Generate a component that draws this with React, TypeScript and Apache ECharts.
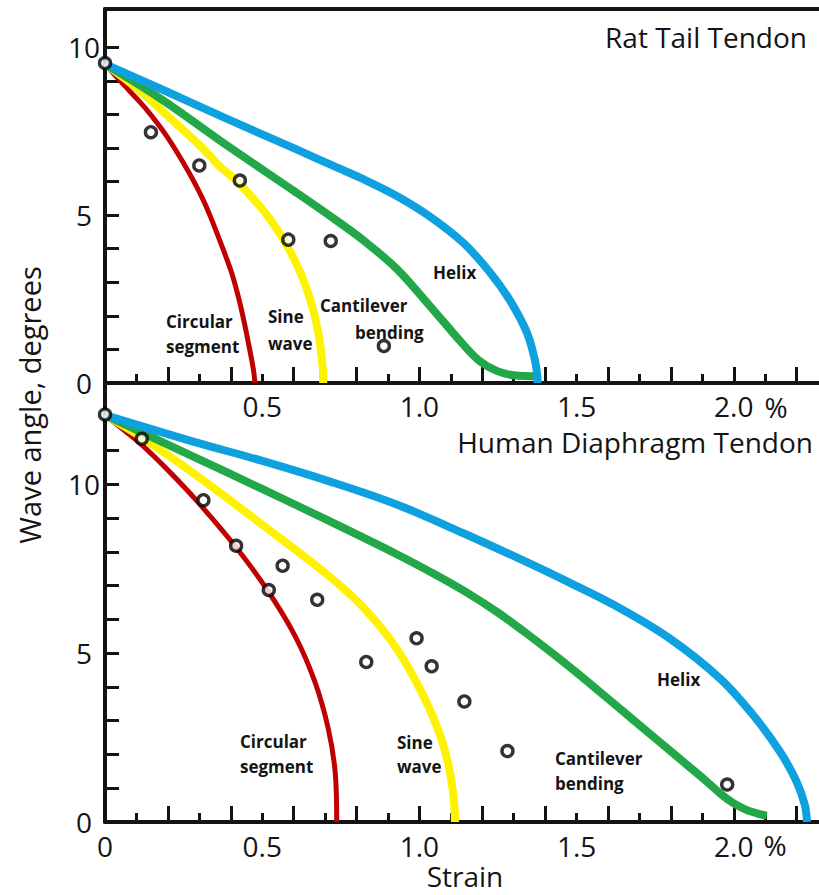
import React, { useEffect, useRef } from "react";
import * as echarts from "echarts";

// ---------- Rat tail tendon (top panel) ----------
const ratCircular = [[0, 9.5], [0.06, 8.88], [0.127, 8.2], [0.2, 7.3], [0.27, 6.22], [0.31, 5.5], [0.336, 4.94], [0.375, 4.0], [0.404, 3.25], [0.426, 2.5], [0.443, 1.8], [0.458, 1.1], [0.472, 0.4], [0.477, 0]];
const ratSine = [[0, 9.5], [0.085, 8.9], [0.171, 8.2], [0.31, 7.0], [0.36, 6.5], [0.426, 5.95], [0.52, 4.94], [0.593, 3.85], [0.647, 2.66], [0.679, 1.47], [0.692, 0.5], [0.694, 0]];
const ratCantilever = [[0, 9.5], [0.18, 8.45], [0.392, 7.05], [0.604, 5.7], [0.715, 4.98], [0.822, 4.25], [0.928, 3.4], [1.033, 2.3], [1.139, 1.15], [1.192, 0.65], [1.246, 0.36], [1.3, 0.23], [1.38, 0.2]];
const ratHelix = [[0, 9.5], [0.18, 8.75], [0.392, 7.85], [0.604, 6.98], [0.73, 6.45], [0.822, 6.07], [0.928, 5.57], [1.033, 4.96], [1.139, 4.18], [1.224, 3.3], [1.288, 2.46], [1.342, 1.5], [1.367, 0.7], [1.375, 0.2], [1.376, 0]];
const ratMeasured = [[0, 9.53], [0.146, 7.47], [0.3, 6.48], [0.429, 6.03], [0.583, 4.27], [0.718, 4.23], [0.887, 1.1]];

// ---------- Human diaphragm tendon (bottom panel) ----------
const humCircular = [[0, 12.05], [0.05, 11.68], [0.111, 11.22], [0.2, 10.42], [0.29, 9.53], [0.413, 8.18], [0.514, 6.9], [0.604, 5.52], [0.668, 4.14], [0.71, 2.77], [0.732, 1.49], [0.737, 0]];
const humSine = [[0, 12.05], [0.12, 11.37], [0.286, 10.3], [0.498, 8.82], [0.71, 7.3], [0.822, 6.35], [0.928, 5.13], [1.012, 3.75], [1.066, 2.57], [1.097, 1.49], [1.111, 0.5], [1.113, 0]];
const humCantilever = [[0, 12.05], [0.12, 11.52], [0.286, 10.8], [0.498, 9.87], [0.716, 8.9], [0.928, 7.93], [1.05, 7.33], [1.15, 6.8], [1.25, 6.2], [1.35, 5.52], [1.45, 4.8], [1.55, 4.04], [1.65, 3.26], [1.75, 2.48], [1.85, 1.7], [1.92, 1.15], [1.96, 0.82], [2.0, 0.55], [2.04, 0.36], [2.08, 0.24], [2.105, 0.19]];
const humHelix = [[0, 12.05], [0.286, 11.25], [0.498, 10.7], [0.716, 10.08], [0.928, 9.4], [1.14, 8.55], [1.352, 7.65], [1.479, 7.08], [1.638, 6.33], [1.797, 5.43], [1.956, 4.25], [2.062, 3.16], [2.147, 2.08], [2.2, 1.19], [2.226, 0.5], [2.233, 0]];
const humMeasured = [[0, 12.07], [0.117, 11.35], [0.313, 9.53], [0.417, 8.18], [0.565, 7.59], [0.521, 6.87], [0.675, 6.58], [0.831, 4.74], [0.991, 5.44], [1.039, 4.61], [1.143, 3.57], [1.28, 2.1], [1.979, 1.11]];

// ---------- ticks and labels ----------
const xLongTicks = [0.2, 0.4, 0.6, 0.8, 1.0, 1.2, 1.4, 1.6, 1.8, 2.0, 2.2];
const xShortTicks = [0.1, 0.3, 0.5, 0.7, 0.9, 1.1, 1.3, 1.5, 1.7, 1.9, 2.1];
const xLabelsTop = [0.5, 1.0, 1.5, 2.0];
const xLabelsBottom = [0, 0.5, 1.0, 1.5, 2.0];
const yTicksTop = [1, 2, 3, 4, 5, 6, 7, 8, 9, 10];
const yTicksBottom = [1, 2, 3, 4, 5, 6, 7, 8, 9, 10, 11, 12];
const yLabels = [0, 5, 10];

const RED = "#c00000";
const YELLOW = "#fff200";
const GREEN = "#22a848";
const BLUE = "#0fa0e0";
const INK = "#141414";
const FONT = "'Open Sans', sans-serif";

export default function App() {
  const ref = useRef<HTMLDivElement>(null);
  useEffect(() => {
    if (!ref.current) return;
    const chart = echarts.init(ref.current, undefined, { renderer: "svg" });
    const fmtX = (v: number) => (v === 0 ? "0" : v.toFixed(1));
    const axisLine = { show: true, onZero: false, lineStyle: { color: INK, width: 4 } };
    const xMain = (grid: number, labels: number[], margin: number) => ({
      type: "value", gridIndex: grid, min: 0, max: 2.271, position: "bottom",
      axisLine, splitLine: { show: false },
      axisTick: { show: true, inside: true, length: 16, lineStyle: { color: INK, width: 3 }, customValues: xLongTicks },
      axisLabel: { customValues: labels, formatter: fmtX, fontSize: 28, lineHeight: 28, fontFamily: FONT, color: INK, margin },
    });
    const xShort = (grid: number) => ({
      type: "value", gridIndex: grid, min: 0, max: 2.271, position: "bottom",
      axisLine: { show: false }, splitLine: { show: false },
      axisTick: { show: true, inside: true, length: 9, lineStyle: { color: INK, width: 3 }, customValues: xShortTicks },
      axisLabel: { show: false },
    });
    const yAx = (grid: number, max: number, ticks: number[]) => ({
      type: "value", gridIndex: grid, min: 0, max,
      axisLine, splitLine: { show: false },
      axisTick: { show: true, inside: true, length: 14, lineStyle: { color: INK, width: 3 }, customValues: ticks },
      axisLabel: { customValues: yLabels, fontSize: 28, lineHeight: 28, fontFamily: FONT, color: INK, margin: 21, align: "center" },
    });
    const line = (data: number[][], color: string, width: number, xi: number, yi: number) => ({
      type: "line", data, xAxisIndex: xi, yAxisIndex: yi, smooth: 0.35, showSymbol: false,
      lineStyle: { color, width, cap: "butt" }, silent: true,
    });
    const pts = (data: number[][], xi: number, yi: number) => ({
      type: "scatter", data, xAxisIndex: xi, yAxisIndex: yi, symbol: "circle", symbolSize: 11,
      itemStyle: { color: "#ffffff", borderColor: "#000000", borderWidth: 3.4 }, z: 5,
    });
    const label = (text: string, x: number, y: number, size = 17, weight: any = "bold", align = "left") => ({
      type: "text", x, y,
      style: { text, fontSize: size, lineHeight: size, fontWeight: weight, fontFamily: FONT, fill: INK, align, verticalAlign: "middle" },
    });
    chart.setOption({
      animation: false,
      backgroundColor: "#ffffff",
      grid: [
        { left: 105, right: 0, top: 9, height: 374 },
        { left: 105, right: 0, top: 383, height: 439 },
      ],
      xAxis: [
        xMain(0, xLabelsTop, 9),
        xShort(0),
        { type: "value", gridIndex: 0, min: 0, max: 2.271, position: "top", axisLine, axisTick: { show: false }, axisLabel: { show: false }, splitLine: { show: false } },
        xMain(1, xLabelsBottom, 10),
        xShort(1),
      ],
      yAxis: [yAx(0, 11.14, yTicksTop), yAx(1, 13, yTicksBottom)],
      series: [
        line(ratCircular, RED, 5, 0, 0),
        line(ratSine, YELLOW, 8, 0, 0),
        line(ratCantilever, GREEN, 8, 0, 0),
        line(ratHelix, BLUE, 8, 0, 0),
        pts(ratMeasured, 0, 0),
        line(humCircular, RED, 5, 3, 1),
        line(humSine, YELLOW, 8, 3, 1),
        line(humCantilever, GREEN, 8, 3, 1),
        line(humHelix, BLUE, 8, 3, 1),
        pts(humMeasured, 3, 1),
      ],
      graphic: [
        label("Rat Tail Tendon", 807, 37, 28, "normal", "right"),
        label("Human Diaphragm Tendon", 813, 442, 28, "normal", "right"),
        label("%", 776, 407, 28, "normal", "center"),
        label("%", 775, 845, 28, "normal", "center"),
        label("Strain", 465, 876, 28, "normal", "center"),
        { type: "text", x: 29, y: 405, rotation: Math.PI / 2,
          style: { text: "Wave angle, degrees", fontSize: 29, lineHeight: 29, fontFamily: FONT, fill: INK, align: "center", verticalAlign: "middle" } },
        label("Circular", 166, 321),
        label("segment", 166, 346),
        label("Sine", 268, 316),
        label("wave", 268, 343),
        label("Cantilever", 320, 305),
        label("bending", 355, 332),
        label("Helix", 433, 272),
        label("Circular", 240, 741),
        label("segment", 240, 766),
        label("Sine", 397, 742),
        label("wave", 397, 766),
        label("Cantilever", 555, 758),
        label("bending", 555, 783),
        label("Helix", 657, 679),
      ],
    });
    return () => chart.dispose();
  }, []);
  return <div ref={ref} style={{ position: "fixed", left: 0, top: 0, width: 819, height: 895 }} />;
}
